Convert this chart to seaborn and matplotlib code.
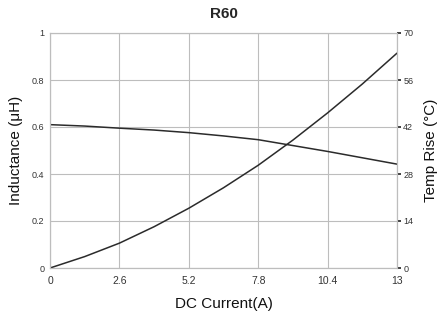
import matplotlib
matplotlib.use("Agg")
import matplotlib.pyplot as plt
import seaborn as sns
import pandas as pd

current = [0, 1.3, 2.6, 3.9, 5.2, 6.5, 7.8, 9.1, 10.4, 11.7, 13]
inductance = [0.610, 0.604, 0.595, 0.587, 0.576, 0.562, 0.546, 0.521, 0.496, 0.469, 0.442]
temp_rise = [0, 3.4, 7.4, 12.3, 17.8, 23.9, 30.6, 38.1, 46.2, 54.8, 64.0]
x_ticks = [0, 2.6, 5.2, 7.8, 10.4, 13]
x_labels = ["0", "2.6", "5.2", "7.8", "10.4", "13"]
yl_ticks = [0, 0.2, 0.4, 0.6, 0.8, 1]
yl_labels = ["0", "0.2", "0.4", "0.6", "0.8", "1"]
yr_ticks = [0, 14, 28, 42, 56, 70]
yr_labels = ["0", "14", "28", "42", "56", "70"]

sns.set_style("white")
plt.rcParams["font.family"] = ["Liberation Sans", "DejaVu Sans"]

df = pd.DataFrame({"current": current, "L": inductance, "T": temp_rise})

fig = plt.figure(figsize=(4.41, 3.22), dpi=100)
ax = fig.add_axes([50/441, 1-268/322, (397-50)/441, (268-33)/322])
ax2 = ax.twinx()

sns.lineplot(data=df, x="current", y="L", ax=ax, color="#2b2b2b", lw=1.1)
sns.lineplot(data=df, x="current", y="T", ax=ax2, color="#2b2b2b", lw=1.1)

ax.set_xlim(0, 13)
ax.set_ylim(0, 1)
ax2.set_ylim(0, 70)
ax.set_xticks(x_ticks)
ax.set_xticklabels(x_labels)
ax.set_yticks(yl_ticks)
ax.set_yticklabels(yl_labels)
ax2.set_yticks(yr_ticks)
ax2.set_yticklabels(yr_labels)

ax.grid(True, color="#bdbdbd", lw=0.8)
ax.set_axisbelow(True)
ax.tick_params(axis="x", length=0, labelsize=7.5, labelcolor="#333333", pad=6)
ax.tick_params(axis="y", length=0, labelsize=6.5, labelcolor="#333333", pad=4)
ax2.tick_params(axis="y", length=3, width=1.2, color="#222222", labelsize=6.5,
                labelcolor="#333333", pad=1.5, direction="out")

for a in (ax, ax2):
    for s in a.spines.values():
        s.set_color("#bdbdbd")
        s.set_linewidth(0.8)

ax.set_xlabel("DC Current(A)", fontsize=11, color="#111111", labelpad=8)
ax.set_ylabel("Inductance (μH)", fontsize=11, color="#111111", labelpad=6)
ax2.set_ylabel("Temp Rise (°C)", fontsize=11, color="#111111", labelpad=8)
ax.set_title("R60", fontsize=11, fontweight="bold", pad=11)

fig.savefig("out.png", dpi=100)
